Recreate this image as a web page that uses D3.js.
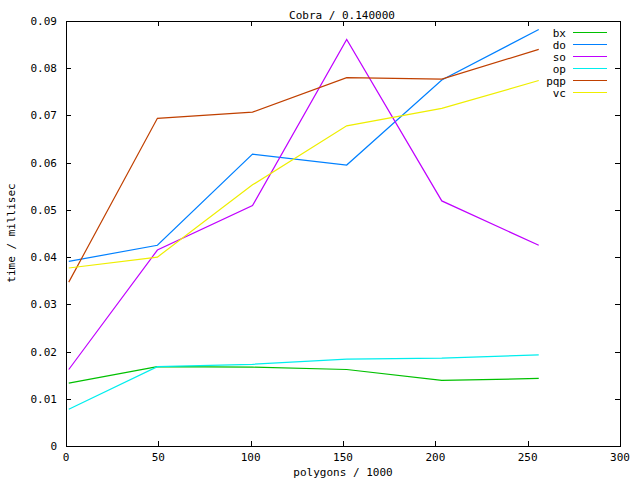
<!DOCTYPE html>
<html>
<head>
<meta charset="utf-8">
<script src="https://cdn.jsdelivr.net/npm/d3@7"></script>
<style>
  body { margin: 0; background: #fff; }
  text { font-family: "DejaVu Sans Mono", monospace; font-size: 11px; fill: #000; }
</style>
</head>
<body>
<svg id="chart" width="640" height="480"></svg>
<script>
// polygons / 1000
var xs = [1.5, 49.5, 101, 152, 203.5, 256];

// time / millisec, one array per method
var bx  = [0.0133, 0.0168, 0.0167, 0.0162, 0.0139, 0.0143];
var dO  = [0.0391, 0.0425, 0.0618, 0.0595, 0.0775, 0.0882];
var so  = [0.0162, 0.0415, 0.0509, 0.0861, 0.0519, 0.0425];
var op  = [0.0078, 0.0168, 0.0173, 0.0184, 0.0186, 0.0193];
var pqp = [0.0347, 0.0694, 0.0707, 0.0780, 0.0777, 0.0840];
var vc  = [0.0377, 0.0400, 0.0553, 0.0678, 0.0715, 0.0774];

var names  = ["bx", "do", "so", "op", "pqp", "vc"];
var colors = ["#00c000", "#0080ff", "#c000ff", "#00eeee", "#c04000", "#eeee00"];
var values = [bx, dO, so, op, pqp, vc];

var xTicks = [0, 50, 100, 150, 200, 250, 300];
var yTicks = [0, 0.01, 0.02, 0.03, 0.04, 0.05, 0.06, 0.07, 0.08, 0.09];

var svg = d3.select("#chart");
var plotL = 66, plotR = 620, plotT = 21, plotB = 446;

var x = d3.scaleLinear().domain([0, 300]).range([plotL, plotR]);
var y = d3.scaleLinear().domain([0, 0.09]).range([plotB, plotT]);

// frame
svg.append("rect")
  .attr("x", plotL + 0.5).attr("y", plotT + 0.5)
  .attr("width", plotR - plotL).attr("height", plotB - plotT)
  .attr("fill", "none").attr("stroke", "#000")
  .attr("shape-rendering", "crispEdges");

// inward ticks on all four sides
var ticks = svg.append("g").attr("stroke", "#000").attr("shape-rendering", "crispEdges");
xTicks.slice(1, -1).forEach(function(t){
  var px = Math.round(x(t)) + 0.5;
  ticks.append("line").attr("x1", px).attr("x2", px).attr("y1", plotB).attr("y2", plotB - 5);
  ticks.append("line").attr("x1", px).attr("x2", px).attr("y1", plotT).attr("y2", plotT + 5);
});
yTicks.slice(1, -1).forEach(function(t){
  var py = Math.round(y(t)) + 0.5;
  ticks.append("line").attr("x1", plotL).attr("x2", plotL + 5).attr("y1", py).attr("y2", py);
  ticks.append("line").attr("x1", plotR).attr("x2", plotR - 5).attr("y1", py).attr("y2", py);
});

// tick labels
svg.append("g").selectAll("text").data(xTicks).enter().append("text")
  .attr("x", function(d){ return x(d); })
  .attr("y", 461)
  .attr("text-anchor", "middle")
  .text(function(d){ return d; });

svg.append("g").selectAll("text").data(yTicks).enter().append("text")
  .attr("x", 57)
  .attr("y", function(d){ return y(d) + 4; })
  .attr("text-anchor", "end")
  .text(function(d){ return d === 0 ? "0" : d3.format(".2f")(d); });

// titles
svg.append("text").attr("x", 342).attr("y", 19).attr("text-anchor", "middle").text("Cobra / 0.140000");
svg.append("text").attr("x", 343).attr("y", 476).attr("text-anchor", "middle").text("polygons / 1000");
svg.append("text").attr("transform", "translate(15,233) rotate(-90)").attr("text-anchor", "middle").text("time / millisec");

// series
var line = d3.line()
  .x(function(d, i){ return x(xs[i]); })
  .y(function(d){ return y(d); });

svg.append("g").selectAll("path").data(values).enter().append("path")
  .attr("d", line)
  .attr("fill", "none")
  .attr("stroke", function(d, i){ return colors[i]; })
  .attr("stroke-width", 1.2);

// legend
var legend = svg.append("g").selectAll("g").data(names).enter().append("g")
  .attr("transform", function(d, i){ return "translate(0," + (32.5 + i * 12) + ")"; });
legend.append("text").attr("x", 566).attr("y", 4).attr("text-anchor", "end").text(function(d){ return d; });
legend.append("line")
  .attr("x1", 573).attr("x2", 607).attr("y1", 0).attr("y2", 0)
  .attr("stroke", function(d, i){ return colors[i]; })
  .attr("shape-rendering", "crispEdges");
</script>
</body>
</html>
